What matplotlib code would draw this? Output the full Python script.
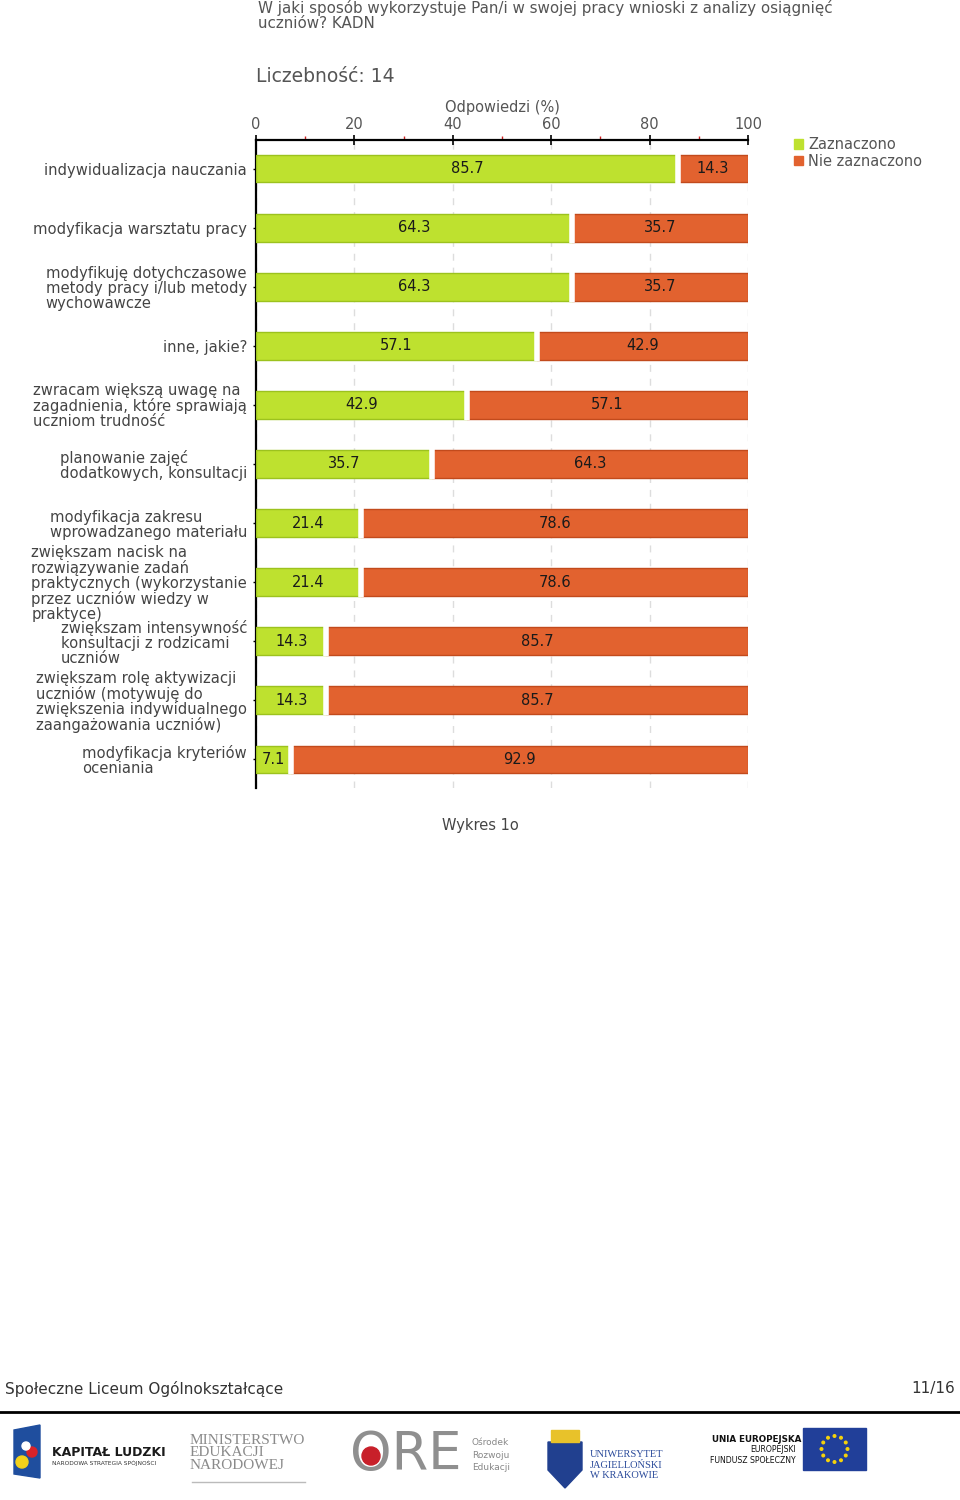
import matplotlib
matplotlib.use("Agg")
import matplotlib.pyplot as plt
from matplotlib.patches import Patch, Rectangle, Polygon, Ellipse
import numpy as np

plt.rcParams['font.family'] = ['DejaVu Sans']

title = "W jaki sposób wykorzystuje Pan/i w swojej pracy wnioski z analizy osiągnięć\nuczniów? KADN"
count_label = "Liczebność: 14"
xlabel = "Odpowiedzi (%)"
caption = "Wykres 1o"
footer_left = "Społeczne Liceum Ogólnokształcące"
footer_right = "11/16"

categories = [
    "indywidualizacja nauczania",
    "modyfikacja warsztatu pracy",
    "modyfikuję dotychczasowe\nmetody pracy i/lub metody\nwychowawcze",
    "inne, jakie?",
    "zwracam większą uwagę na\nzagadnienia, które sprawiają\nuczniom trudność",
    "planowanie zajęć\ndodatkowych, konsultacji",
    "modyfikacja zakresu\nwprowadzanego materiału",
    "zwiększam nacisk na\nrozwiązywanie zadań\npraktycznych (wykorzystanie\nprzez uczniów wiedzy w\npraktyce)",
    "zwiększam intensywność\nkonsultacji z rodzicami\nuczniów",
    "zwiększam rolę aktywizacji\nuczniów (motywuję do\nzwiększenia indywidualnego\nzaangażowania uczniów)",
    "modyfikacja kryteriów\noceniania",
]
zaznaczono = [85.7, 64.3, 64.3, 57.1, 42.9, 35.7, 21.4, 21.4, 14.3, 14.3, 7.1]
nie_zaznaczono = [14.3, 35.7, 35.7, 42.9, 57.1, 64.3, 78.6, 78.6, 85.7, 85.7, 92.9]
series_names = ["Zaznaczono", "Nie zaznaczono"]
xticks = [0, 20, 40, 60, 80, 100]

GREEN = "#bee12f"
GREEN_E = "#9cc21e"
ORANGE = "#e2622f"
ORANGE_E = "#c24a1c"
TXT = "#444444"

W, H = 960, 1500
fig = plt.figure(figsize=(9.6, 15), dpi=100)

def fx(px):
    return px / W

def fy(py):
    return 1 - py / H

ax = fig.add_axes([fx(256), fy(788), fx(748) - fx(256), fy(140) - fy(788)])
y = np.arange(len(categories))
bh = 0.46
ax.barh(y, zaznaczono, height=bh, color=GREEN, edgecolor=GREEN_E, linewidth=1, zorder=3)
ax.barh(y, nie_zaznaczono, left=zaznaczono, height=bh, color=ORANGE, edgecolor=ORANGE_E, linewidth=1, zorder=3)
# white separation between segments
ax.barh(y, [0] * len(y), left=zaznaczono, height=bh * 1.1, color="none", edgecolor="white", linewidth=4, zorder=4)

for i, (g, o) in enumerate(zip(zaznaczono, nie_zaznaczono)):
    ax.text(g / 2, i, f"{g}", ha="center", va="center", fontsize=10.5, color="#1a1a1a", zorder=5)
    ax.text(g + o / 2, i, f"{o}", ha="center", va="center", fontsize=10.5, color="#1a1a1a", zorder=5)

ax.set_xlim(0, 100)
ax.set_ylim(len(y) - 0.51, -0.49)
ax.xaxis.tick_top()
ax.xaxis.set_label_position("top")
ax.set_xticks(xticks)
ax.set_xticklabels([str(t) for t in xticks], fontsize=10.5, color="#555555")
ax.set_xticks([10, 30, 50, 70, 90], minor=True)
ax.tick_params(axis="x", which="major", direction="inout", length=7, width=1.2, color="black", pad=2)
ax.tick_params(axis="x", which="minor", direction="out", length=3, width=1, color="#d02020")
ax.set_xlabel(xlabel, fontsize=10.5, color="#555555", labelpad=4)

ax.set_yticks(y)
ax.set_yticklabels(categories, fontsize=10.6, color=TXT)
for lab in ax.get_yticklabels():
    lab.set_multialignment("left")
    lab.set_linespacing(1.0)
ax.tick_params(axis="y", direction="inout", length=5, width=1, color="black", pad=4)

for s in ["right", "bottom"]:
    ax.spines[s].set_visible(False)
ax.spines["left"].set_linewidth(1.6)
ax.spines["top"].set_linewidth(1.6)
ax.set_axisbelow(True)
ax.grid(axis="x", color="#dddddd", linestyle=(0, (5, 5)), linewidth=1)

fig.text(fx(258), fy(0), title, ha="left", va="top", fontsize=10.9, color="#555555", linespacing=1.0)
fig.text(fx(256), fy(77), count_label, ha="left", va="center", fontsize=13.5, color="#555555")
fig.text(fx(480), fy(825), caption, ha="center", va="center", fontsize=10.5, color="#444444")

fig.legend(handles=[Patch(facecolor=GREEN, edgecolor=GREEN), Patch(facecolor=ORANGE, edgecolor=ORANGE)],
           labels=series_names, loc="upper left", bbox_to_anchor=(fx(781), fy(124)),
           frameon=False, fontsize=10.5, handlelength=0.6, handleheight=0.6,
           handletextpad=0.35, labelspacing=0.1, labelcolor="#555555")

# footer
fig.text(fx(5), fy(1389), footer_left, ha="left", va="center", fontsize=11, color="#333333")
fig.text(fx(955), fy(1389), footer_right, ha="right", va="center", fontsize=11, color="#333333")
fig.add_artist(plt.Line2D([0, 1], [fy(1412), fy(1412)], transform=fig.transFigure, color="black", linewidth=2))

# logos (approximations)
def fig_patch(p):
    p.set_transform(fig.transFigure)
    fig.add_artist(p)

def dot(cx, cy, r, color):
    fig_patch(Ellipse((fx(cx), fy(cy)), 2 * r / W, 2 * r / H, color=color))

fig_patch(Polygon([(fx(14), fy(1430)), (fx(40), fy(1425)), (fx(40), fy(1478)), (fx(14), fy(1474))],
                  closed=True, color="#1f4e9e"))
dot(22, 1462, 6, "#f3d21b")
dot(32, 1452, 5, "#d8232a")
dot(26, 1446, 4, "white")
fig.text(fx(52), fy(1452), "KAPITAŁ LUDZKI", ha="left", va="center", fontsize=9, fontweight="bold", color="#1a1a1a")
fig.text(fx(52), fy(1463), "NARODOWA STRATEGIA SPÓJNOŚCI", ha="left", va="center", fontsize=4.2, color="#333333")

fig.text(fx(190), fy(1453), "MINISTERSTWO\nEDUKACJI\nNARODOWEJ", ha="left", va="center", fontsize=11,
         family="Liberation Serif", color="#8a8a8a", linespacing=0.95)
fig.add_artist(plt.Line2D([fx(192), fx(305)], [fy(1482), fy(1482)], transform=fig.transFigure, color="#bbbbbb", linewidth=1))

fig.text(fx(350), fy(1455), "ORE", ha="left", va="center", fontsize=38, color="#8f8f8f")
dot(371, 1456, 9, "#c8202a")
fig.text(fx(472), fy(1455), "Ośrodek\nRozwoju\nEdukacji", ha="left", va="center", fontsize=6.5,
         color="#888888", linespacing=1.5)

fig_patch(Polygon([(fx(548), fy(1442)), (fx(582), fy(1442)), (fx(582), fy(1470)), (fx(565), fy(1488)), (fx(548), fy(1470))],
                  closed=True, color="#21408f"))
fig_patch(Rectangle((fx(551), fy(1442)), fx(28), fy(1430) - fy(1442), color="#e8c22a"))
fig.text(fx(590), fy(1465), "UNIWERSYTET\nJAGIELLOŃSKI\nW KRAKOWIE", ha="left", va="center", fontsize=7.5,
         family="Liberation Serif", color="#2a4a9a", linespacing=1.15)

fig.text(fx(712), fy(1440), "UNIA EUROPEJSKA", ha="left", va="center", fontsize=6.3, fontweight="bold", color="#111111")
fig.text(fx(796), fy(1455), "EUROPEJSKI\nFUNDUSZ SPOŁECZNY", ha="right", va="center", fontsize=5.6, color="#111111",
         linespacing=1.2)
fig_patch(Rectangle((fx(803), fy(1470)), fx(63), fy(1428) - fy(1470), color="#213f99"))
for a in np.linspace(0, 2 * np.pi, 12, endpoint=False):
    dot(834.5 + 13 * np.cos(a), 1449 + 13 * np.sin(a), 1.3, "#f5d20b")

fig.savefig("out.png", dpi=100, facecolor="white")
